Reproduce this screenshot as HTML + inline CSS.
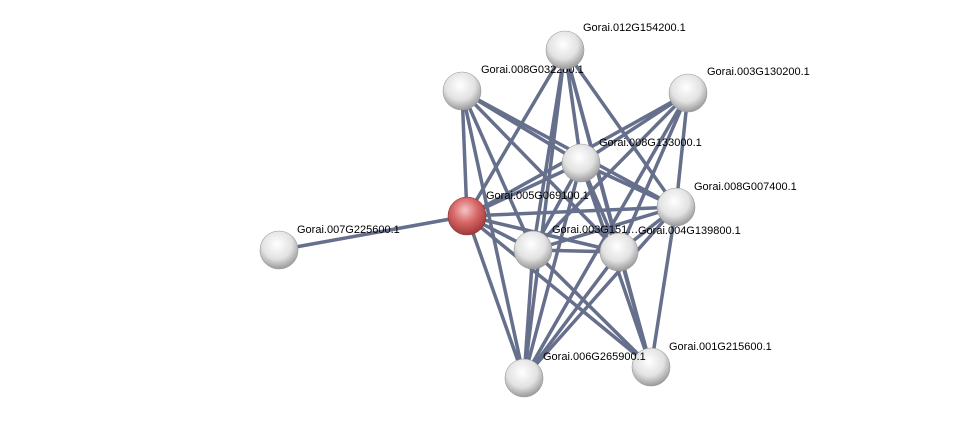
<!DOCTYPE html>
<html><head><meta charset="utf-8"><style>
html,body{margin:0;padding:0;background:#fff;}
svg text{font-family:"Liberation Sans",sans-serif;font-size:11px;fill:#000;}
</style></head><body>
<svg width="975" height="424" viewBox="0 0 975 424" xmlns="http://www.w3.org/2000/svg">
<defs>
<radialGradient id="g" cx="0.45" cy="0.35" r="0.65">
<stop offset="0" stop-color="#ffffff"/><stop offset="0.6" stop-color="#e2e2e2"/><stop offset="1" stop-color="#9a9a9a"/>
</radialGradient>
<radialGradient id="r" cx="0.45" cy="0.35" r="0.65">
<stop offset="0" stop-color="#f4c4c4"/><stop offset="0.5" stop-color="#d86868"/><stop offset="1" stop-color="#a03838"/>
</radialGradient>
</defs>
<g id="edges" stroke="#56607f" stroke-width="3.5" stroke-linecap="round" opacity="0.9"></g>
<g id="nodes"></g>
</svg>
<script>
var N={A:[565,50],B:[462,91],C:[688,93],D:[581,163],E:[467,216],F:[676,207],G:[279,250],H:[533,250],I:[619,252],J:[524,378],K:[651,367]};
var pairs=["AD","AE","AF","AH","AI","AJ","AK","BD","BF","BH","BI","BE","BJ","CD","CE","CH","CI","CF","CJ","DE","DF","DH","DI","DJ","DK","EF","EH","EI","EJ","EK","EG","FH","FI","FJ","FK","HI","HJ","HK","IJ","IK"];
var ns="http://www.w3.org/2000/svg",eg=document.getElementById("edges"),ng=document.getElementById("nodes");
pairs.forEach(function(p){var a=N[p[0]],b=N[p[1]];var l=document.createElementNS(ns,"line");l.setAttribute("x1",a[0]);l.setAttribute("y1",a[1]);l.setAttribute("x2",b[0]);l.setAttribute("y2",b[1]);eg.appendChild(l);});
var L={A:["Gorai.012G154200.1",583,31],B:["Gorai.008G032200.1",481,73],C:["Gorai.003G130200.1",707,75],D:["Gorai.008G133000.1",599,146],E:["Gorai.005G069100.1",486,199],F:["Gorai.008G007400.1",694,190],G:["Gorai.007G225600.1",297,233],H:["Gorai.003G151…",552,233],I:["Gorai.004G139800.1",638,234],J:["Gorai.006G265900.1",543,360],K:["Gorai.001G215600.1",669,350]};
"BACDEFGHIKJ".split("").forEach(function(k){
var c=document.createElementNS(ns,"circle");c.setAttribute("cx",N[k][0]);c.setAttribute("cy",N[k][1]);c.setAttribute("r",19);c.setAttribute("fill",k=="E"?"url(#r)":"url(#g)");c.setAttribute("stroke",k=="E"?"#8a3030":"#999");c.setAttribute("stroke-width","0.6");ng.appendChild(c);
var t=L[k],e=document.createElementNS(ns,"text");e.setAttribute("x",t[1]);e.setAttribute("y",t[2]);e.textContent=t[0];ng.appendChild(e);});
</script>
</body></html>
